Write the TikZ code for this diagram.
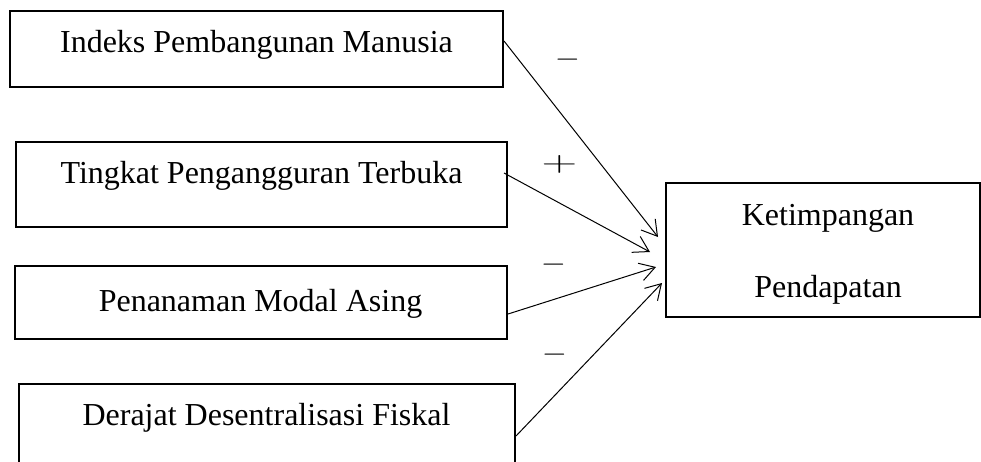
\documentclass[tikz,border=0pt]{standalone}
\usepackage{fontspec}
\setmainfont{Liberation Serif}
\newfontfamily\signfont{Latin Modern Roman}
\usetikzlibrary{arrows.meta}
\tikzset{
  box/.style={draw, line width=2pt, inner sep=0pt, rectangle},
  lbl/.style={inner sep=0pt, anchor=base, font=\fontsize{32}{38}\selectfont},
  sgn/.style={inner sep=0pt, anchor=base, font=\signfont\fontsize{31.5}{36}\selectfont},
  arr/.style={line width=1pt, -{Straight Barb[length=15pt, width=18pt, line width=1pt]}}
}
\begin{document}
\begin{tikzpicture}[x=1pt,y=-1pt]
\useasboundingbox (0,0) rectangle (981,461);
\clip (0,0) rectangle (981,461);
% boxes
\node[box, minimum width=493pt, minimum height=76pt] (b1) at (256.5,49) {};
\node[box, minimum width=491pt, minimum height=85pt] (b2) at (261.5,184.5) {};
\node[box, minimum width=492pt, minimum height=73pt] (b3) at (261,302.5) {};
\node[box, minimum width=496pt, minimum height=106pt] (b4) at (267,437) {};
\node[box, minimum width=314pt, minimum height=134pt] (k) at (823,250) {};
% texts
\node[lbl] (t1) at (256.5,52) {Indeks Pembangunan Manusia};
\node[lbl] (t2) at (261.5,183) {Tingkat Pengangguran Terbuka};
\node[lbl] (t3) at (260.5,311) {Penanaman Modal Asing};
\node[lbl] (t4) at (266.5,425) {Derajat Desentralisasi Fiskal};
\node[lbl] (tk1) at (828,225) {Ketimpangan};
\node[lbl] (tk2) at (828,297) {Pendapatan};
% signs
\node[sgn] (s1) at (567.5,67) {−};
\node[sgn] (s2) at (559.5,171) {\scalebox{1.57}[0.9]{+}};
\node[sgn] (s3) at (553.5,272) {−};
\node[sgn] (s4) at (554.5,362) {−};
% arrows
\draw[arr] ([yshift=8pt]b1.east) -- ([xshift=-7pt,yshift=13pt]k.west);
\draw[arr] ([xshift=-4pt,yshift=11.5pt]b2.east) -- ([xshift=-15pt,yshift=-2pt]k.west);
\draw[arr] ([yshift=-11.5pt]b3.east) -- ([xshift=-9pt,yshift=-17pt]k.west);
\draw[arr] ([yshift=1pt]b4.east) -- ([xshift=-3pt,yshift=-33pt]k.west);
\end{tikzpicture}
\end{document}
